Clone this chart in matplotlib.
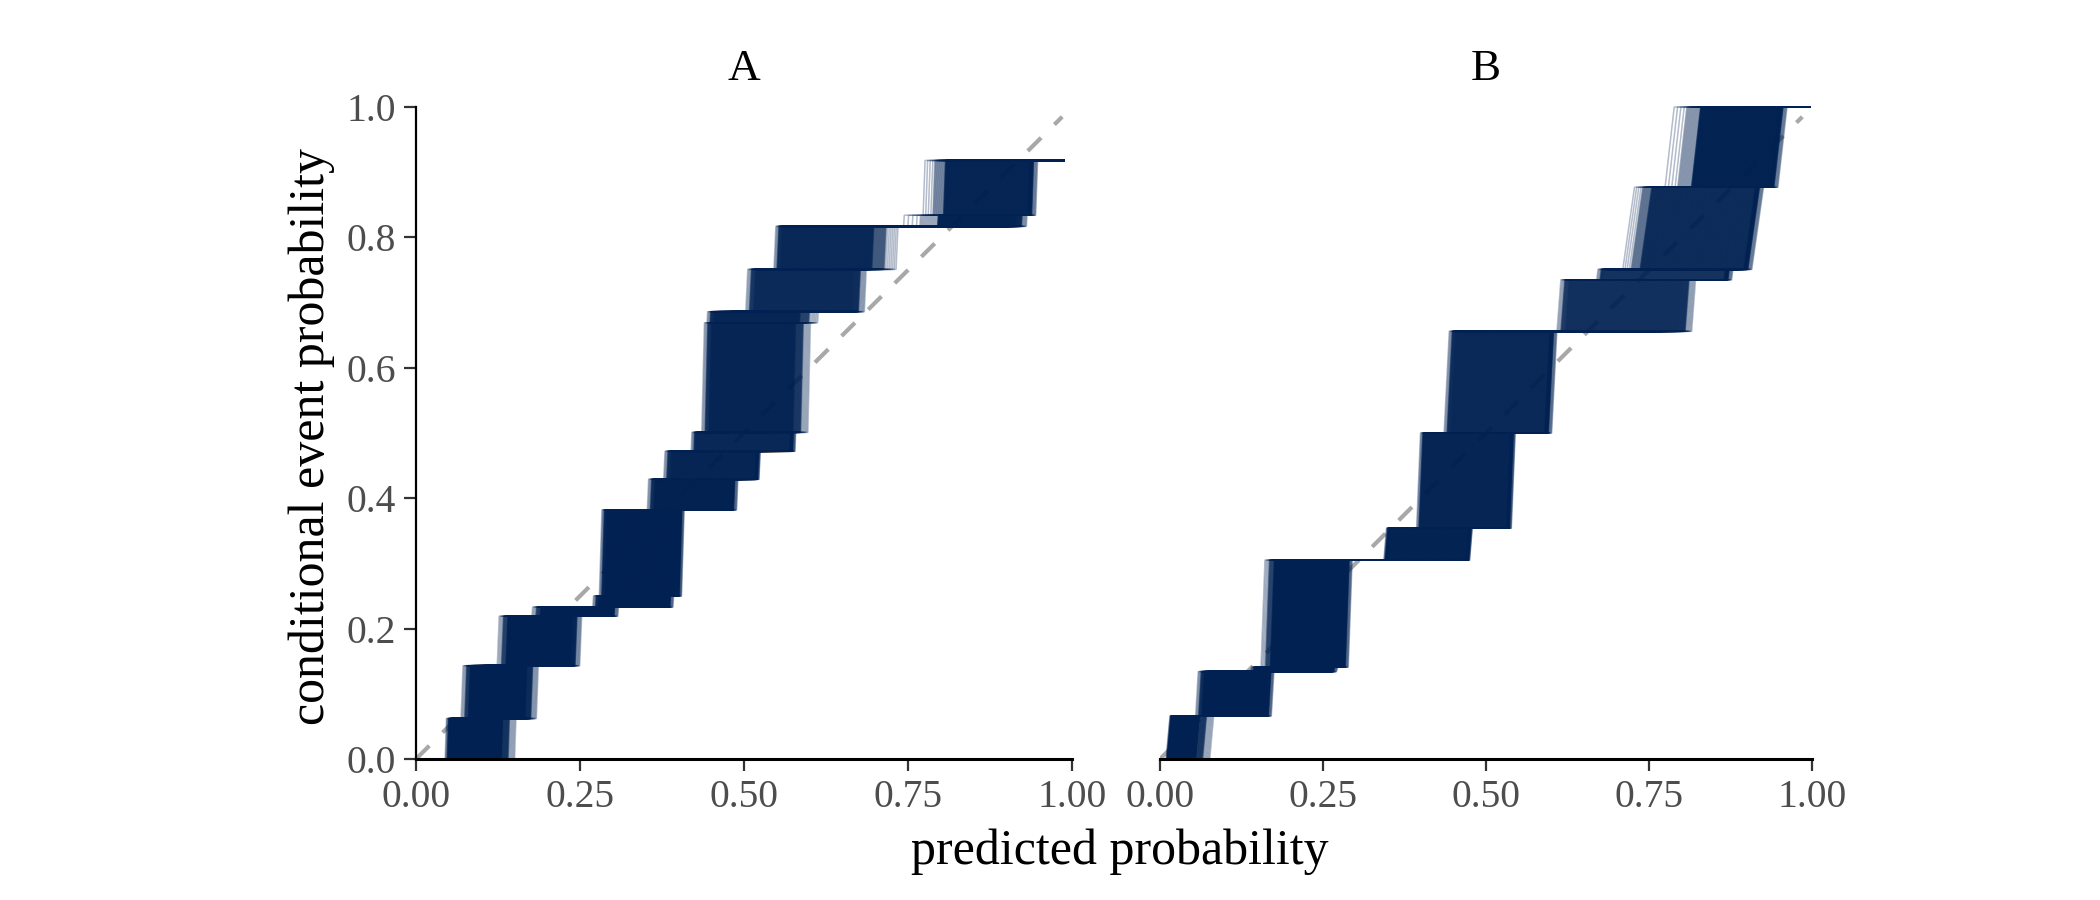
import numpy as np
import matplotlib
matplotlib.use("Agg")
import matplotlib.pyplot as plt
from matplotlib.collections import LineCollection

plt.rcParams['font.family'] = ['Liberation Serif', 'DejaVu Serif']

# bootstrap reliability curves: each panel is a set of step levels, and for every
# jump the x range (outer and dense core) over which the bootstrap curves jump
n_boot = 600
spread_u = [0.0, 0.007, 0.035, 0.935, 0.988, 1.0]

# Panel A
a_levels = [0.000, 0.062, 0.143, 0.219, 0.233, 0.250, 0.382, 0.429, 0.472,
            0.501, 0.669, 0.686, 0.751, 0.817, 0.834, 0.918]
a_jump_lo = [0.044, 0.068, 0.123, 0.176, 0.269, 0.279, 0.352, 0.377, 0.419,
             0.435, 0.443, 0.502, 0.545, 0.740, 0.771]
a_core_lo = [0.051, 0.080, 0.137, 0.189, 0.278, 0.287, 0.362, 0.387, 0.428,
             0.446, 0.453, 0.514, 0.555, 0.795, 0.804]
a_core_hi = [0.130, 0.166, 0.235, 0.296, 0.382, 0.397, 0.479, 0.517, 0.570,
             0.575, 0.585, 0.665, 0.695, 0.915, 0.932]
a_jump_hi = [0.151, 0.184, 0.250, 0.308, 0.392, 0.405, 0.489, 0.523, 0.578,
             0.598, 0.613, 0.684, 0.733, 0.931, 0.945]
a_slant = [0.002, 0.003, 0.003, 0.001, 0.001, 0.004, 0.002, 0.002, 0.001,
           0.004, 0.001, 0.003, 0.003, 0.001, 0.003]
a_x_range = (0.010, 0.988)

# Panel B
b_levels = [0.000, 0.066, 0.134, 0.141, 0.305, 0.354, 0.500, 0.656, 0.735,
            0.751, 0.877, 1.000]
b_jump_lo = [0.009, 0.054, 0.138, 0.154, 0.343, 0.393, 0.435, 0.608, 0.669,
             0.708, 0.772]
b_core_lo = [0.013, 0.064, 0.146, 0.169, 0.348, 0.401, 0.445, 0.621, 0.680,
             0.736, 0.815]
b_core_hi = [0.054, 0.161, 0.261, 0.279, 0.470, 0.532, 0.590, 0.795, 0.865,
             0.895, 0.935]
b_jump_hi = [0.077, 0.171, 0.271, 0.289, 0.475, 0.539, 0.601, 0.816, 0.877,
             0.908, 0.948]
b_slant = [0.006, 0.004, 0.002, 0.006, 0.004, 0.006, 0.008, 0.006, 0.002,
           0.018, 0.014]
b_x_range = (0.005, 0.997)

panel_titles = ["A", "B"]
x_ticks = [0.0, 0.25, 0.5, 0.75, 1.0]
x_ticklabels = ["0.00", "0.25", "0.50", "0.75", "1.00"]
y_ticks = [0.0, 0.2, 0.4, 0.6, 0.8, 1.0]
y_ticklabels = ["0.0", "0.2", "0.4", "0.6", "0.8", "1.0"]

navy = "#002152"


def build_curves(levels, lo, clo, chi, hi, slant, x_range):
    u = (np.arange(n_boot) + 0.5) / n_boot
    curves = []
    for ui in u:
        xs = []
        for k in range(len(lo)):
            knots = [lo[k], (lo[k] + clo[k]) / 2, clo[k],
                     chi[k], (chi[k] + hi[k]) / 2, hi[k]]
            xs.append(np.interp(ui, spread_u, knots))
        xs = np.maximum.accumulate(xs)
        pts = [(x_range[0], levels[0])]
        prev = x_range[0]
        for k, xk in enumerate(xs):
            xk = max(xk, prev)
            pts.append((xk, levels[k]))
            prev = xk + slant[k]
            pts.append((prev, levels[k + 1]))
        pts.append((x_range[1], levels[-1]))
        curves.append(pts)
    return curves


fig = plt.figure(figsize=(21, 9), dpi=100)
ax_a = fig.add_axes([0.1981, 0.1567, 0.3124, 0.7244])
ax_b = fig.add_axes([0.5524, 0.1567, 0.3105, 0.7244])

panels = [
    (ax_a, (a_levels, a_jump_lo, a_core_lo, a_core_hi, a_jump_hi, a_slant, a_x_range)),
    (ax_b, (b_levels, b_jump_lo, b_core_lo, b_core_hi, b_jump_hi, b_slant, b_x_range)),
]

for i, (ax, spec) in enumerate(panels):
    # diagonal of perfect calibration
    ax.plot([0, 0.985], [0, 0.985], color="#a8a8a8", lw=3.0,
            ls=(0, (4.5, 4.5)), zorder=1)
    lc = LineCollection(build_curves(*spec), colors=navy, linewidths=1.1,
                        alpha=0.3, zorder=2)
    lc.set_clip_on(False)
    ax.add_collection(lc)

    ax.set_xlim(0, 1)
    ax.set_ylim(0, 1)
    ax.set_xticks(x_ticks)
    ax.set_xticklabels(x_ticklabels)
    for s in ["top", "right"]:
        ax.spines[s].set_visible(False)
    ax.spines["bottom"].set_linewidth(2.2)
    ax.spines["left"].set_linewidth(1.6)
    ax.tick_params(axis="both", length=8.5, width=1.6, color="#333333",
                   labelsize=28.5, labelcolor="#4d4d4d", pad=6)
    ax.text(0.5, 1.0414, panel_titles[i], transform=ax.transAxes,
            ha="center", va="baseline", fontsize=32.5, color="black")

ax_a.set_yticks(y_ticks)
ax_a.set_yticklabels(y_ticklabels)
ax_b.spines["left"].set_visible(False)
ax_b.set_yticks([])

fig.text(0.1486, 0.515, "conditional event probability", rotation=90,
         ha="center", va="center", fontsize=36)
fig.text(0.5333, 0.054, "predicted probability", ha="center", va="center",
         fontsize=36)

fig.savefig("out.png", dpi=100)
